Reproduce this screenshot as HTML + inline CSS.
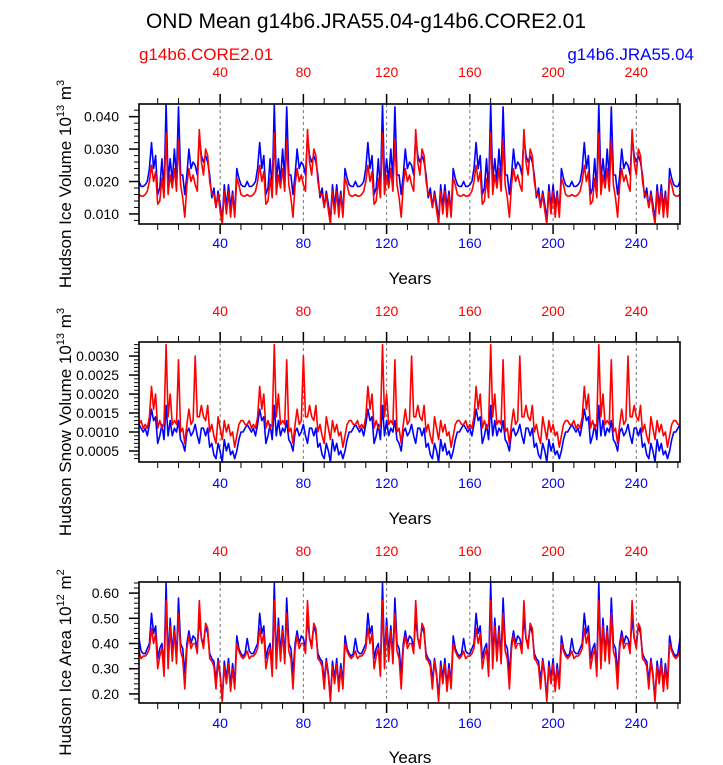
<!DOCTYPE html>
<html><head><meta charset="utf-8"><style>
body{margin:0;background:#fff;}
svg{display:block;font-family:"Liberation Sans",Arial,sans-serif;}
</style></head><body>
<svg id="chart" width="723" height="765" viewBox="0 0 723 765" xmlns="http://www.w3.org/2000/svg">
<text x="366" y="28" font-size="21" text-anchor="middle">OND Mean g14b6.JRA55.04-g14b6.CORE2.01</text>
<text x="139" y="60" font-size="17" fill="#ff0000">g14b6.CORE2.01</text>
<text x="694" y="60" font-size="17" fill="#0000ff" text-anchor="end">g14b6.JRA55.04</text>
<g id="panels"></g>
</svg>
<script>
// one 52-year forcing cycle per series
const volJRA = [20,18.5,18.5,19,20,24,32,24,28,16,18,27,17,44,20,27,20,30,21,43,22,22,16,22,30,24,26,25,22,34,28,26,28,26,22,15,18,12,17,13,8,19,12,19,12,17,10,24,21,19,18.5,18.5];
const volCORE = [16,15.5,15.5,16,17,20,25,20,23,13,14,21,15,35,16,22,18,24,17,33,19,15,9,19,24,20,22,19,17,36,26,22,30,28,20,16,16,12,16,11,6.5,17,10,17,9,16,9,21,19,16,15.5,15.5];
const snowJRA = [12,11,10,11,9,12,16,13,14,7,9,12,8,17,9,13,9,11,10,13,8,7,5,10,11,9,10,12,9,7,11,11,9,11,6,7,4,3,7,5,2,8,5,7,4,5,3,5,8,10,10,11];
const snowCORE = [12,13,11,12,11,14,22,16,20,11,13,11,12,33,14,20,12,13,12,29,10,11,7,12,16,12,13,30,14,14,17,14,13,17,10,12,9,7,14,11,8,13,10,12,9,10,6,9,12,13,13,12];
const areaJRA = [0.42,0.37,0.36,0.36,0.38,0.40,0.52,0.44,0.47,0.34,0.38,0.40,0.30,0.64,0.33,0.50,0.36,0.47,0.34,0.58,0.40,0.38,0.28,0.40,0.45,0.40,0.43,0.42,0.38,0.50,0.42,0.40,0.47,0.44,0.36,0.34,0.33,0.25,0.34,0.28,0.18,0.33,0.26,0.34,0.23,0.32,0.24,0.43,0.38,0.36,0.35,0.36];
const areaCORE = [0.37,0.34,0.35,0.35,0.36,0.38,0.46,0.40,0.44,0.30,0.35,0.38,0.27,0.57,0.30,0.47,0.33,0.45,0.32,0.52,0.37,0.34,0.22,0.38,0.43,0.38,0.40,0.40,0.36,0.57,0.42,0.38,0.48,0.46,0.34,0.33,0.31,0.22,0.33,0.27,0.17,0.31,0.24,0.32,0.21,0.30,0.22,0.40,0.37,0.35,0.34,0.35];
const xTicks = [40,80,120,160,200,240];
const volTicks = ["0.010","0.020","0.030","0.040"];
const snowTicks = ["0.0005","0.0010","0.0015","0.0020","0.0025","0.0030"];
const areaTicks = ["0.20","0.30","0.40","0.50","0.60"];

const NS="http://www.w3.org/2000/svg";
const root=document.getElementById('panels');
function mk(tag,attrs,parent){const e=document.createElementNS(NS,tag);for(const k in attrs)e.setAttribute(k,attrs[k]);(parent||root).appendChild(e);return e;}
function expand(cycle,scale){const out=[];for(let i=0;i<261;i++)out.push(cycle[i%cycle.length]*scale);return out;}

const X0=139,X1=680,XMIN=1,XMAX=261;
const xs=v=>X0+(v-XMIN)/(XMAX-XMIN)*(X1-X0);

const panels=[
 {name:'ice-volume',top:104,bot:224,ymin:0.0069,ymax:0.0439,ticks:volTicks,minor:0.002,
  jra:expand(volJRA,0.001),core:expand(volCORE,0.001),title:'Hudson Ice Volume 10',sup:'13',unit:' m',usup:'3',labTop:77,labBot:248,years:284},
 {name:'snow-volume',top:342,bot:462,ymin:0.00021,ymax:0.00337,ticks:snowTicks,minor:0.0001,
  jra:expand(snowJRA,0.0001),core:expand(snowCORE,0.0001),title:'Hudson Snow Volume 10',sup:'13',unit:' m',usup:'3',labTop:316,labBot:488,years:524},
 {name:'ice-area',top:582,bot:703,ymin:0.164,ymax:0.644,ticks:areaTicks,minor:0.02,
  jra:expand(areaJRA,1),core:expand(areaCORE,1),title:'Hudson Ice Area 10',sup:'12',unit:' m',usup:'2',labTop:556,labBot:728,years:763}
];

panels.forEach(p=>{
  const g=mk('g',{});
  
  
  const ys=v=>p.bot-(v-p.ymin)/(p.ymax-p.ymin)*(p.bot-p.top);
  xTicks.forEach(t=>{
    const l=mk('line',{x1:xs(t),x2:xs(t),y1:p.top,y2:p.bot,stroke:'#777','stroke-dasharray':'3,3','stroke-width':1},g);
    
    
  });
  [['jra','#0000ff'],['core','#ff0000']].forEach(([k,c])=>{
    const d=p[k].map((v,i)=>(i?'L':'M')+xs(i+1).toFixed(1)+','+Math.max(p.top,Math.min(p.bot,ys(v))).toFixed(1)).join('');
    const path=mk('path',{d:d,fill:'none',stroke:c,'stroke-width':1.6,'stroke-linejoin':'round'},g);
    
    
  });
  const box=mk('rect',{x:X0,y:p.top,width:X1-X0,height:p.bot-p.top,fill:'none',stroke:'#000','stroke-width':1.6},g);
  
  
  for(let t=10;t<=260;t+=10){
    const maj=t%40===0,len=maj?10:6;
    mk('line',{x1:xs(t),x2:xs(t),y1:p.top,y2:p.top-len,stroke:'#000','stroke-width':maj?1.5:1},g);
    mk('line',{x1:xs(t),x2:xs(t),y1:p.bot,y2:p.bot+len,stroke:'#000','stroke-width':maj?1.5:1},g);
  }
  xTicks.forEach(t=>{
    const a=mk('text',{x:xs(t),y:p.labTop,'font-size':14,'text-anchor':'middle',fill:'#ff0000'},g);a.textContent=t;
    
    
    const b=mk('text',{x:xs(t),y:p.labBot,'font-size':14,'text-anchor':'middle',fill:'#0000ff'},g);b.textContent=t;
    
    
  });
  const yr=mk('text',{x:410,y:p.years,'font-size':17,'text-anchor':'middle'},g);yr.textContent='Years';
  
  
  for(let v=Math.ceil(p.ymin/p.minor)*p.minor;v<=p.ymax;v+=p.minor){
    mk('line',{x1:X0,x2:X0-5,y1:ys(v),y2:ys(v),stroke:'#000','stroke-width':1},g);
  }
  p.ticks.forEach(s=>{
    const v=parseFloat(s);
    mk('line',{x1:X0,x2:X0-10,y1:ys(v),y2:ys(v),stroke:'#000','stroke-width':1.5},g);
    const t=mk('text',{x:X0-20,y:ys(v)+5,'font-size':14,'text-anchor':'end'},g);t.textContent=s;
    
    
  });
  const cy=(p.top+p.bot)/2+20;
  const yt=mk('text',{x:0,y:0,'font-size':17,'text-anchor':'middle',transform:`translate(71,${cy}) rotate(-90)`},g);
  yt.innerHTML=p.title+'<tspan font-size="11" dy="-7">'+p.sup+'</tspan><tspan dy="7">'+p.unit+'</tspan><tspan font-size="11" dy="-7">'+p.usup+'</tspan>';
  
  
});
</script>
</body></html>
